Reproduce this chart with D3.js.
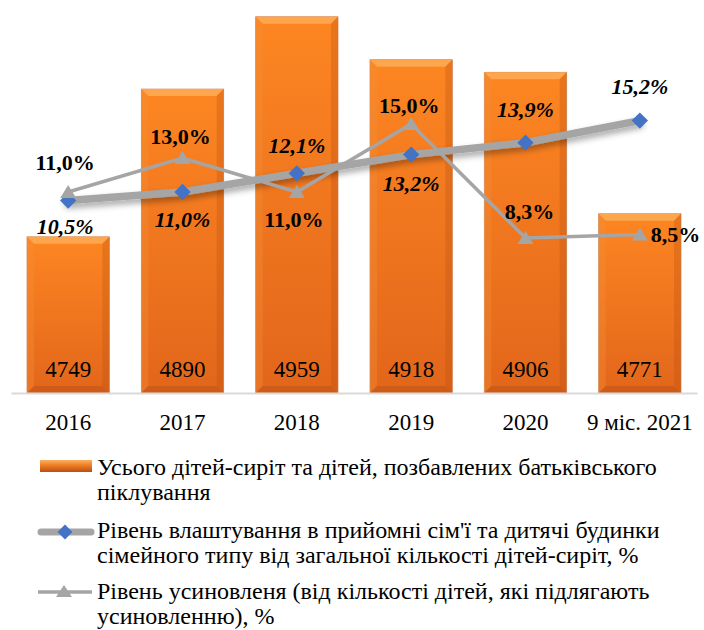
<!DOCTYPE html>
<html>
<head>
<meta charset="utf-8">
<script src="https://cdn.jsdelivr.net/npm/d3@7"></script>
<style>
  body { margin: 0; background: #fff; }
</style>
</head>
<body>
<div id="chart"></div>
<script>
// data
var years = ["2016", "2017", "2018", "2019", "2020", "9 міс. 2021"];
var totalKids = [4749, 4890, 4959, 4918, 4906, 4771];
var fosterRate = [10.5, 11.0, 12.1, 13.2, 13.9, 15.2];
var adoptRate = [11.0, 13.0, 11.0, 15.0, 8.3, 8.5];

var legendTexts = [
    ["Усього дітей-сиріт та дітей, позбавлених батьківського", "піклування"],
    ["Рівень влаштування в прийомні сім'ї та дитячі будинки", "сімейного типу від загальної кількості дітей-сиріт, %"],
    ["Рівень усиновленя (від кількості дітей, які підлягають", "усиновленню), %"]
];

// label placement (layout only): [dx, dy]
var fosterLabelPos = [[-3, 33], [0, 35], [0, -20], [0, 36], [0, -26], [0, -27]];
var adoptLabelPos = [[-3, -22], [-2, -14], [-3, 35], [-2, -11], [4, -19], [11, 7]];

var serif = "'Liberation Serif', 'Times New Roman', Times, Tinos, 'Noto Serif', 'DejaVu Serif', FreeSerif, 'Nimbus Roman', serif";
var fmt = function (v) { return v.toFixed(1).replace(".", ",") + "%"; };

var svgWidth = 704, svgHeight = 630;
var svg = d3.select("#chart").append("svg")
    .attr("width", svgWidth)
    .attr("height", svgHeight)
    .style("font-family", serif);

var defs = svg.append("defs");
var grad = defs.append("linearGradient").attr("id", "barGrad")
    .attr("x1", 0).attr("y1", 0).attr("x2", 0).attr("y2", 1);
grad.append("stop").attr("offset", "0%").attr("stop-color", "#fd8622");
grad.append("stop").attr("offset", "100%").attr("stop-color", "#e2661b");

var lgrad = defs.append("linearGradient").attr("id", "legGrad")
    .attr("x1", 0).attr("y1", 0).attr("x2", 0).attr("y2", 1);
lgrad.append("stop").attr("offset", "0%").attr("stop-color", "#fbb063");
lgrad.append("stop").attr("offset", "45%").attr("stop-color", "#f07d22");
lgrad.append("stop").attr("offset", "100%").attr("stop-color", "#b84e12");

var shadow = defs.append("filter").attr("id", "shadow")
    .attr("x", "-10%").attr("y", "-50%").attr("width", "120%").attr("height", "200%");
shadow.append("feDropShadow").attr("dx", 0).attr("dy", 4).attr("stdDeviation", 3)
    .attr("flood-color", "#000").attr("flood-opacity", 0.35);

// scales
var x = d3.scaleBand().domain(years).range([11, 697])
    .paddingInner(0.28).paddingOuter(0.14);
var yBar = d3.scaleLinear().domain([4600, 4975]).range([393, 0]);
var yPct = d3.scaleLinear().domain([0, 20]).range([379, 39]);

// bars
var bars = svg.append("g").selectAll("g.bar")
    .data(totalKids).enter().append("g").attr("class", "bar");

bars.append("rect")
    .attr("x", (d, i) => x(years[i]))
    .attr("y", d => yBar(d))
    .attr("width", x.bandwidth())
    .attr("height", d => yBar(4600) - yBar(d))
    .attr("fill", "url(#barGrad)")
    .attr("stroke", "#d08a5a")
    .attr("stroke-width", 0.8);

// bevel edges
var bev = 7;
bars.append("polygon")
    .attr("points", function (d, i) {
        var x0 = x(years[i]), x1 = x0 + x.bandwidth(), y0 = yBar(d);
        return [[x0, y0], [x1, y0], [x1 - bev, y0 + bev], [x0 + bev, y0 + bev]].join(" ");
    })
    .attr("fill", "#fdaa52").attr("opacity", 0.9);
bars.append("polygon")
    .attr("points", function (d, i) {
        var x0 = x(years[i]), y0 = yBar(d), y1 = yBar(4600);
        return [[x0, y0], [x0 + bev, y0 + bev], [x0 + bev, y1 - bev], [x0, y1]].join(" ");
    })
    .attr("fill", "#f39038").attr("opacity", 0.35);
bars.append("polygon")
    .attr("points", function (d, i) {
        var x1 = x(years[i]) + x.bandwidth(), y0 = yBar(d), y1 = yBar(4600);
        return [[x1, y0], [x1 - bev, y0 + bev], [x1 - bev, y1 - bev], [x1, y1]].join(" ");
    })
    .attr("fill", "#b9500f").attr("opacity", 0.3);
bars.append("polygon")
    .attr("points", function (d, i) {
        var x0 = x(years[i]), x1 = x0 + x.bandwidth(), y1 = yBar(4600);
        return [[x0, y1], [x0 + bev, y1 - bev], [x1 - bev, y1 - bev], [x1, y1]].join(" ");
    })
    .attr("fill", "#b14b10").attr("opacity", 0.4);

bars.append("text")
    .attr("x", (d, i) => x(years[i]) + x.bandwidth() / 2)
    .attr("y", 377)
    .attr("text-anchor", "middle")
    .style("font-family", serif)
    .style("font-size", "23px")
    .text(d => d);

// x axis
var xAxis = svg.append("g")
    .attr("transform", "translate(0,393)")
    .call(d3.axisBottom(x).tickSize(0).tickPadding(14));
xAxis.attr("font-family", null).attr("font-size", null);
xAxis.select(".domain").attr("stroke", "#d9d9d9").attr("stroke-width", 2);
xAxis.selectAll("text")
    .style("font-family", serif)
    .style("font-size", "23px")
    .attr("fill", "#000")
    .attr("dy", 0).attr("y", 37);

var cx = (d, i) => x(years[i]) + x.bandwidth() / 2;

// foster line (thick gray with shadow)
var line = d3.line().x(cx).y(d => yPct(d));
svg.append("path")
    .datum(fosterRate)
    .attr("d", line)
    .attr("fill", "none")
    .attr("stroke", "#a5a5a5")
    .attr("stroke-width", 7.5)
    .attr("stroke-linecap", "round")
    .attr("filter", "url(#shadow)");

// adoption line
svg.append("path")
    .datum(adoptRate)
    .attr("d", line)
    .attr("fill", "none")
    .attr("stroke", "#a5a5a5")
    .attr("stroke-width", 3.5);

svg.append("g").selectAll("path")
    .data(fosterRate).enter().append("path")
    .attr("transform", (d, i) => "translate(" + cx(d, i) + "," + yPct(d) + ")")
    .attr("d", d3.symbol().type(d3.symbolDiamond2).size(170))
    .attr("fill", "#4472c4");

svg.append("g").selectAll("path")
    .data(adoptRate).enter().append("path")
    .attr("transform", (d, i) => "translate(" + cx(d, i) + "," + yPct(d) + ")")
    .attr("d", "M0,-7L8,6L-8,6Z")
    .attr("fill", "#a5a5a5");

// labels
svg.append("g").selectAll("text")
    .data(fosterRate).enter().append("text")
    .attr("x", (d, i) => cx(d, i) + fosterLabelPos[i][0])
    .attr("y", (d, i) => yPct(d) + fosterLabelPos[i][1])
    .attr("text-anchor", "middle")
    .style("font-family", serif)
    .style("font-size", "22px")
    .style("font-weight", "bold")
    .style("font-style", "italic")
    .text(fmt);

svg.append("g").selectAll("text")
    .data(adoptRate).enter().append("text")
    .attr("x", (d, i) => cx(d, i) + adoptLabelPos[i][0])
    .attr("y", (d, i) => yPct(d) + adoptLabelPos[i][1])
    .attr("text-anchor", (d, i) => i == adoptRate.length - 1 ? "start" : "middle")
    .style("font-family", serif)
    .style("font-size", "22px")
    .style("font-weight", "bold")
    .text(fmt);

// legend
var legendY = [475, 538, 599];
var leg = svg.append("g").selectAll("g")
    .data(legendTexts).enter().append("g");

leg.append("text")
    .attr("x", 97)
    .attr("y", (d, i) => legendY[i])
    .style("font-family", serif)
    .style("font-size", "24px")
    .selectAll("tspan")
    .data(d => d).enter().append("tspan")
    .attr("x", 97)
    .attr("dy", (d, j) => j == 0 ? 0 : 25)
    .text(d => d);

svg.append("rect")
    .attr("x", 40).attr("y", 460).attr("width", 52).attr("height", 12)
    .attr("fill", "url(#legGrad)");

svg.append("line")
    .attr("x1", 41).attr("x2", 91).attr("y1", 532).attr("y2", 532)
    .attr("stroke", "#a5a5a5").attr("stroke-width", 7).attr("stroke-linecap", "round");
svg.append("path")
    .attr("transform", "translate(65,532)")
    .attr("d", d3.symbol().type(d3.symbolDiamond2).size(140))
    .attr("fill", "#4472c4");

svg.append("line")
    .attr("x1", 38).attr("x2", 92).attr("y1", 592).attr("y2", 592)
    .attr("stroke", "#a5a5a5").attr("stroke-width", 3.5);
svg.append("path")
    .attr("transform", "translate(64,592)")
    .attr("d", "M0,-7L8,5L-8,5Z")
    .attr("fill", "#a5a5a5");
</script>
</body>
</html>
